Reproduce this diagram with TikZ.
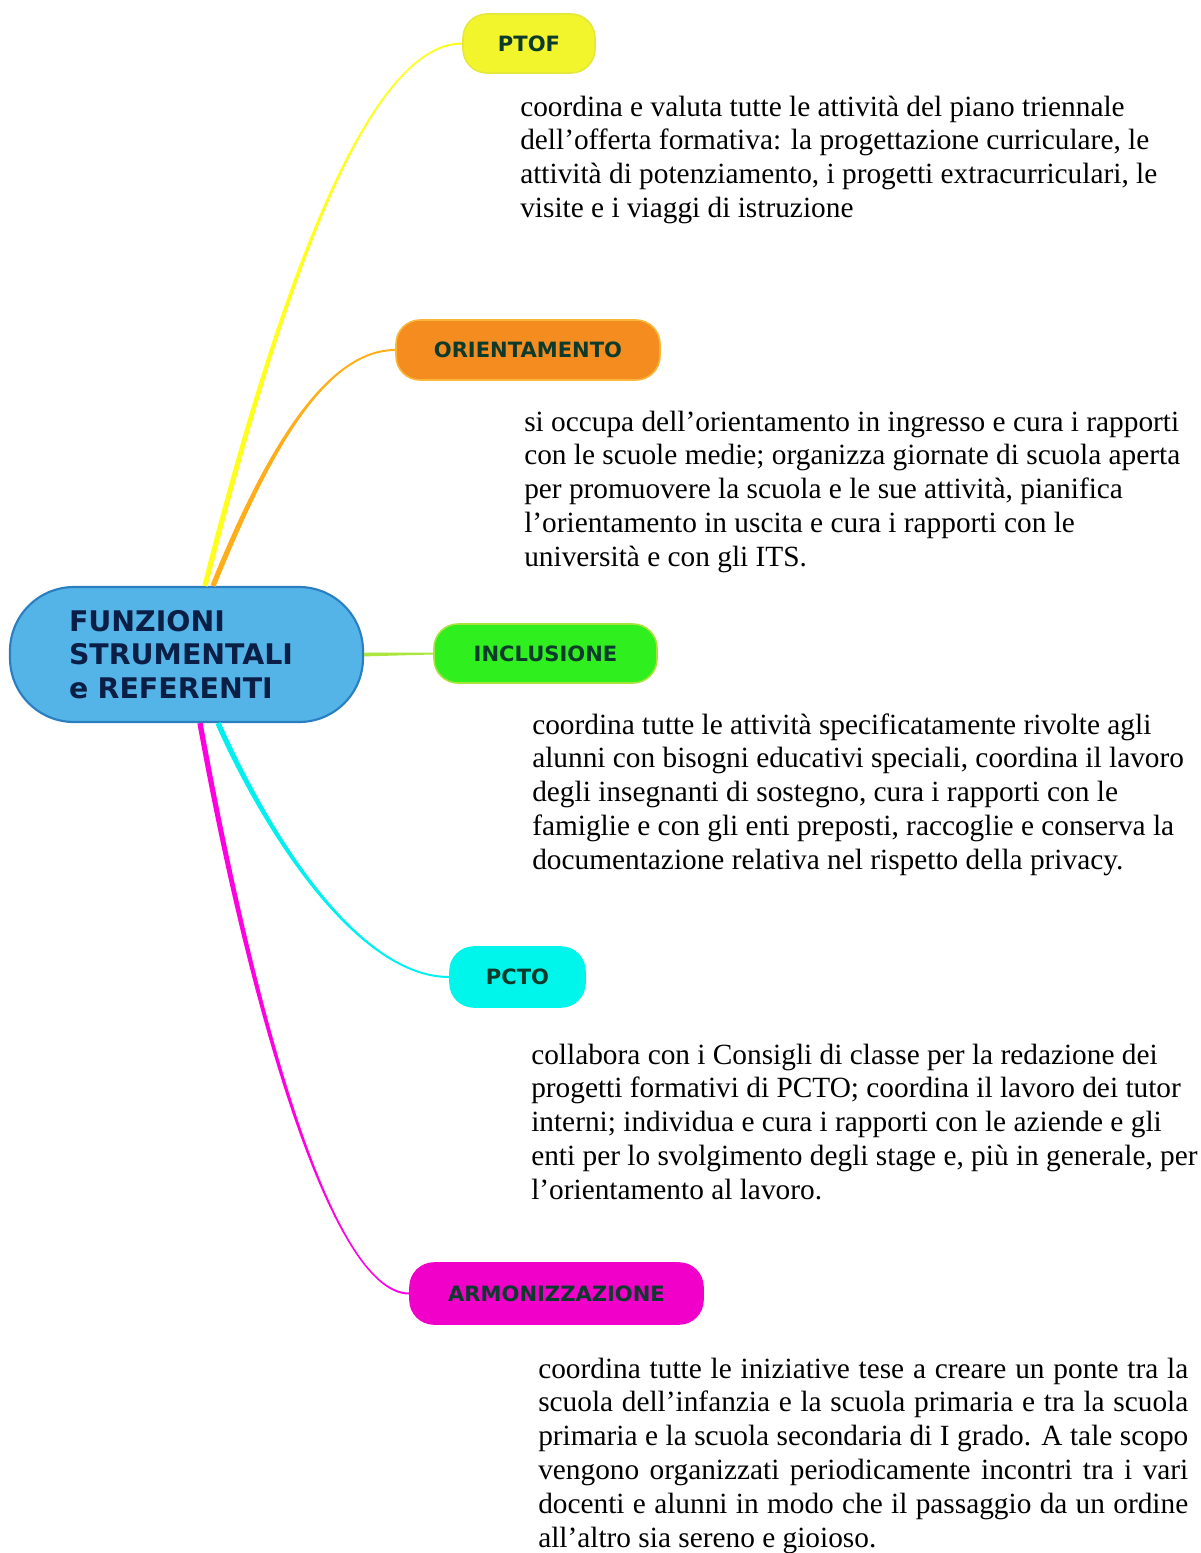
\documentclass[tikz,border=0pt]{standalone}
\usepackage{fontspec}
\usetikzlibrary{calc}
\setmainfont{Liberation Serif}
\newfontfamily\lblfont{DejaVu Sans}
\definecolor{rootfill}{HTML}{55B4E7}
\definecolor{rootdraw}{HTML}{2A7FC1}
\definecolor{roottext}{HTML}{0A1E46}
\definecolor{lbltext}{HTML}{0C3B2C}
\definecolor{ptoffill}{HTML}{F2F52C}
\definecolor{ptofdraw}{HTML}{E4E83A}
\definecolor{orifill}{HTML}{F48C20}
\definecolor{oridraw}{HTML}{FBB73A}
\definecolor{incfill}{HTML}{2FEF1E}
\definecolor{incdraw}{HTML}{A8E23C}
\definecolor{pctofill}{HTML}{00F6EA}
\definecolor{armfill}{HTML}{F000C8}
\definecolor{lyel}{HTML}{FFFF1E}
\definecolor{lora}{HTML}{FFAE1A}
\definecolor{lgrn}{HTML}{ABE63C}
\definecolor{lcya}{HTML}{00F0F0}
\definecolor{lmag}{HTML}{FF00E0}
\tikzset{
  branch/.style={draw, line width=1.2pt, rounded corners=18pt, inner sep=0pt,
    font={\lblfont\bfseries\fontsize{15.8pt}{19pt}\selectfont}, text=lbltext},
  desc/.style={anchor=base west, inner sep=0pt, align=left,
    font={\fontsize{22pt}{25.35pt}\selectfont}, text=black},
}
% tapered connector: start, control 1, control 2, end, start offset (dx,dy), end offset (dx,dy), colour
\newcommand\taperlink[9]{%
  \fill[#9] ($#1+(#5,#6)$) .. controls ($#2+(#5,#6)$) and ($#3+(#7,#8)$) .. ($#4+(#7,#8)$)
    -- ($#4-(#7,#8)$) .. controls ($#3-(#7,#8)$) and ($#2-(#5,#6)$) .. ($#1-(#5,#6)$) -- cycle;}
\begin{document}
\begin{tikzpicture}[x=0.75pt,y=-0.75pt]
\useasboundingbox (0,0) rectangle (1200,1553);

% central node
\node[draw=rootdraw, fill=rootfill, line width=1.6pt, rounded corners=48pt,
  minimum width=264.75pt, minimum height=101.25pt, inner sep=0pt,
  text width=176.25pt, align=left, text=roottext,
  font={\lblfont\bfseries\fontsize{21.3pt}{25pt}\selectfont}] (root) at (186.5,654.5)
  {FUNZIONI\\STRUMENTALI\\e REFERENTI};

% branch nodes
\node[branch, draw=ptofdraw, fill=ptoffill, minimum width=99pt, minimum height=44.25pt] (ptof) at (529,43.5) {PTOF};
\node[branch, draw=oridraw, fill=orifill, minimum width=198pt, minimum height=45pt] (ori) at (528,350) {ORIENTAMENTO};
\node[branch, draw=incdraw, fill=incfill, minimum width=167.25pt, minimum height=44.25pt] (inc) at (545.5,653.5) {INCLUSIONE};
\node[branch, draw=pctofill, fill=pctofill, minimum width=101.25pt, minimum height=45pt] (pcto) at (517.5,977) {PCTO};
\node[branch, draw=armfill, fill=armfill, minimum width=219.75pt, minimum height=45.75pt] (arm) at (556.5,1293.5) {ARMONIZZAZIONE};

% connectors (tapered, from the central node to each branch)
\taperlink{(root.north)+(18.5,0)}{(270,330)}{(360,43.5)}{(ptof.west)}{2.6}{0.65}{0}{1.0}{lyel}
\taperlink{(root.north)+(26.5,0)}{(260,470)}{(320,350)}{(ori.west)}{2.45}{0.95}{0}{1.0}{lora}
\fill[lgrn] ($(root.east)+(0,1.9)$) -- ($(inc.west)+(0,1.0)$) -- ($(inc.west)-(0,1.0)$) -- ($(root.east)-(0,1.9)$) -- cycle;
\taperlink{(root.south)+(31.5,0)}{(270,840)}{(360,977)}{(pcto.west)}{2.4}{-1.05}{0}{-1.0}{lcya}
\taperlink{(root.south)+(13.5,0)}{(250,1000)}{(330,1293.5)}{(arm.west)}{2.6}{-0.47}{0}{-1.0}{lmag}

% descriptions
\node[desc] (dptof) at (520,217.4) {coordina e valuta tutte le attività del piano triennale\\
dell’offerta formativa: la progettazione curriculare, le\\
attività di potenziamento, i progetti extracurriculari, le\\
visite e i viaggi di istruzione};

\node[desc] (dori) at (524,566.2) {si occupa dell’orientamento in ingresso e cura i rapporti\\
con le scuole medie; organizza giornate di scuola aperta\\
per promuovere la scuola e le sue attività, pianifica\\
l’orientamento in uscita e cura i rapporti con le\\
università e con gli ITS.};

\node[desc] (dinc) at (532,869.2) {coordina tutte le attività specificatamente rivolte agli\\
alunni con bisogni educativi speciali, coordina il lavoro\\
degli insegnanti di sostegno, cura i rapporti con le\\
famiglie e con gli enti preposti, raccoglie e conserva la\\
documentazione relativa nel rispetto della privacy.};

\node[desc] (dpcto) at (531,1199.2) {collabora con i Consigli di classe per la redazione dei\\
progetti formativi di PCTO; coordina il lavoro dei tutor\\
interni; individua e cura i rapporti con le aziende e gli\\
enti per lo svolgimento degli stage e, più in generale, per\\
l’orientamento al lavoro.};

\node[desc] (darm) at (538,1547) {\makebox[487.5pt][s]{coordina tutte le iniziative tese a creare un ponte tra la}\\
\makebox[487.5pt][s]{scuola dell’infanzia e la scuola primaria e tra la scuola}\\
\makebox[487.5pt][s]{primaria e la scuola secondaria di I grado. A tale scopo}\\
\makebox[487.5pt][s]{vengono organizzati periodicamente incontri tra i vari}\\
\makebox[487.5pt][s]{docenti e alunni in modo che il passaggio da un ordine}\\
all’altro sia sereno e gioioso.};
\end{tikzpicture}
\end{document}
